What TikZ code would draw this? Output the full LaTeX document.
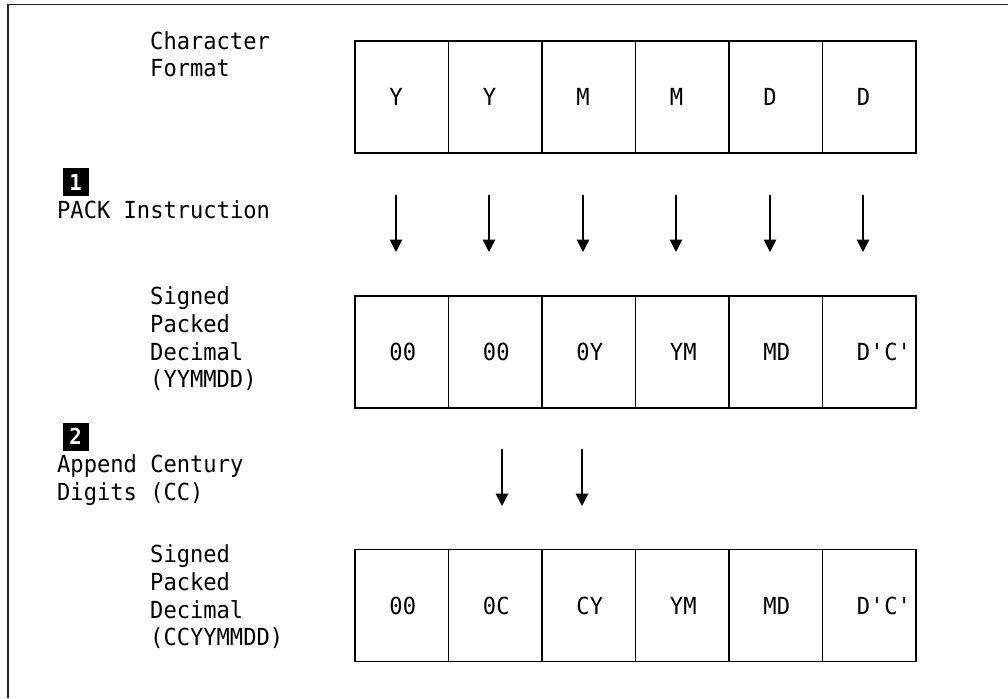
\documentclass[tikz,border=0pt]{standalone}
\usepackage{fontspec}
\setmonofont[FakeStretch=0.94]{DejaVu Sans Mono}
\usetikzlibrary{arrows.meta}
\begin{document}
\begin{tikzpicture}[x=1pt,y=-1pt,
  frame/.style={line width=1.5pt, draw=black!85},
  cell/.style={draw, line width=1.7pt, minimum width=93.5pt, minimum height=112pt, inner sep=0pt},
  ctext/.style={anchor=west, inner sep=0pt, font=\ttfamily\fontsize{23.5}{28}\selectfont},
  lbl/.style={anchor=base west, inner sep=0pt, font=\ttfamily\fontsize{23.5}{28}\selectfont},
  badge/.style={fill=black, text=white, minimum width=26pt, minimum height=28pt, inner sep=0pt, font=\ttfamily\bfseries\fontsize{22}{26}\selectfont},
  arr/.style={line width=1.6pt, -{Triangle[width=12.5pt,length=12.5pt]}}]
\useasboundingbox (0,0) rectangle (1008,698);
\draw[frame] (8,698) -- (8,4.5) -- (1008,4.5);

% row 1
\foreach \i/\t in {1/Y,2/Y,3/M,4/M,5/D,6/D} {
  \node[cell] (a\i) at ({355+93.5*(\i-0.5)},97) {};
  \node[ctext] (at\i) at ([xshift=-12.5pt]a\i.center) {\t};
}
% row 2
\foreach \i/\t in {1/00,2/00,3/0Y,4/YM,5/MD,6/D\textquotesingle C\textquotesingle} {
  \node[cell] (b\i) at ({355+93.5*(\i-0.5)},352) {};
  \node[ctext] (bt\i) at ([xshift=-12.5pt]b\i.center) {\t};
}
% row 3
\foreach \i/\t in {1/00,2/0C,3/CY,4/YM,5/MD,6/D\textquotesingle C\textquotesingle} {
  \node[cell] (c\i) at ({355+93.5*(\i-0.5)},605.5) {};
  \node[ctext] (ct\i) at ([xshift=-12.5pt]c\i.center) {\t};
}

% labels
\node[lbl] (l1a) at (150,50) {Character};
\node[lbl] (l1b) at (150,77) {Format};
\node[badge] (n1) at (75.5,182) {1};
\node[lbl] (l2) at (57,218) {PACK Instruction};
\node[lbl] (l3a) at (150,304) {Signed};
\node[lbl] (l3b) at (150,332) {Packed};
\node[lbl] (l3c) at (150,360) {Decimal};
\node[lbl] (l3d) at (150,387) {(YYMMDD)};
\node[badge] (n2) at (75.5,436.5) {2};
\node[lbl] (l4a) at (57,472) {Append Century};
\node[lbl] (l4b) at (57,500) {Digits (CC)};
\node[lbl] (l5a) at (150,562) {Signed};
\node[lbl] (l5b) at (150,590) {Packed};
\node[lbl] (l5c) at (150,618) {Decimal};
\node[lbl] (l5d) at (150,645) {(CCYYMMDD)};

% arrows (PACK)
\foreach \i/\x in {1/396,2/489,3/583,4/676,5/770,6/863} {
  \coordinate (p\i s) at (\x,195);
  \coordinate (p\i e) at (\x,252);
  \draw[arr] (p\i s) -- (p\i e);
}
% arrows (append)
\foreach \i/\x in {1/502,2/582} {
  \coordinate (q\i s) at (\x,449);
  \coordinate (q\i e) at (\x,506);
  \draw[arr] (q\i s) -- (q\i e);
}
\end{tikzpicture}
\end{document}
